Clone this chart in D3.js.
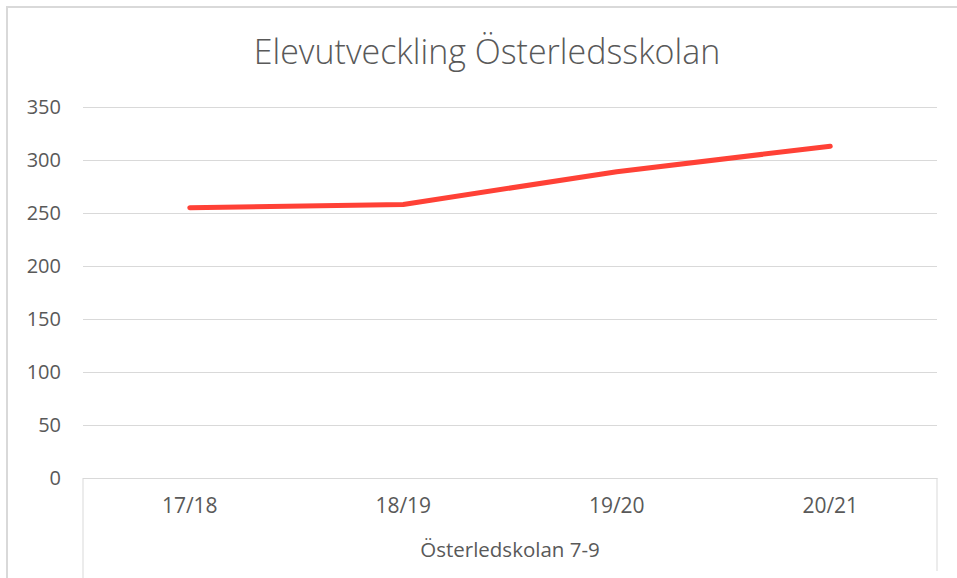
<!DOCTYPE html>
<html>
<head>
<meta charset="utf-8">
<script src="https://cdn.jsdelivr.net/npm/d3@7"></script>
<style>
  body { margin: 0; background: #fff; }
  svg { display: block; font-family: "Open Sans", "Liberation Sans", sans-serif; }
  .grid line { stroke: #d9d9d9; stroke-width: 1; }
  .tick text { fill: #595959; font-family: "Open Sans", sans-serif; }
</style>
</head>
<body>
<svg width="957" height="578"></svg>
<script>
// data
var kategorier = ["17/18", "18/19", "19/20", "20/21"];
var elever = [255, 258, 289, 313];
var yTicks = [0, 50, 100, 150, 200, 250, 300, 350];
var gruppNamn = "Österledskolan 7-9";
var rubrik = "Elevutveckling Österledsskolan";

var svg = d3.select("svg");

// ram runt diagrammet
svg.append("path")
  .attr("d", "M7,578 V7 H957")
  .attr("fill", "none")
  .attr("stroke", "#d9d9d9")
  .attr("stroke-width", 2);

var pLeft = 83, pRight = 937, pTop = 107, pBottom = 478;

var x = d3.scaleBand().domain(kategorier).range([pLeft, pRight]);
var y = d3.scaleLinear().domain([0, 350]).range([pBottom, pTop]);

// titel
svg.append("text")
  .attr("x", 487)
  .attr("y", 64)
  .attr("text-anchor", "middle")
  .attr("fill", "#595959")
  .style("font-size", "34px")
  .style("font-weight", 300)
  .text(rubrik);

// y-axel med stödlinjer
var yAxis = svg.append("g")
  .attr("class", "grid")
  .attr("transform", "translate(" + pLeft + ",0)")
  .call(d3.axisLeft(y).tickValues(yTicks).tickSize(-(pRight - pLeft)).tickPadding(22));
yAxis.attr("font-family", null);
yAxis.select(".domain").remove();
yAxis.selectAll(".tick text").style("font-size", "20px");

// x-axel (kategorier)
var xAxis = svg.append("g")
  .attr("transform", "translate(0," + pBottom + ")")
  .call(d3.axisBottom(x).tickSize(0).tickPadding(20));
xAxis.attr("font-family", null);
xAxis.select(".domain").attr("stroke", "#d9d9d9");
xAxis.selectAll(".tick text").style("font-size", "21px").attr("dy", "0.71em");

// gruppnivå
svg.append("line")
  .attr("x1", pLeft).attr("x2", pLeft)
  .attr("y1", pBottom).attr("y2", 578)
  .attr("stroke", "#d9d9d9");
svg.append("line")
  .attr("x1", pRight).attr("x2", pRight)
  .attr("y1", pBottom).attr("y2", 571)
  .attr("stroke", "#d9d9d9");
svg.append("text")
  .attr("x", (pLeft + pRight) / 2)
  .attr("y", 557)
  .attr("text-anchor", "middle")
  .attr("fill", "#595959")
  .style("font-size", "20.5px")
  .text(gruppNamn);

// linjen
var line = d3.line()
  .x((d, i) => x(kategorier[i]) + x.bandwidth() / 2)
  .y(d => y(d));

svg.append("path")
  .datum(elever)
  .attr("d", line)
  .attr("fill", "none")
  .attr("stroke", "#ff4136")
  .attr("stroke-width", 5)
  .attr("stroke-linecap", "round")
  .attr("stroke-linejoin", "round");
</script>
</body>
</html>
